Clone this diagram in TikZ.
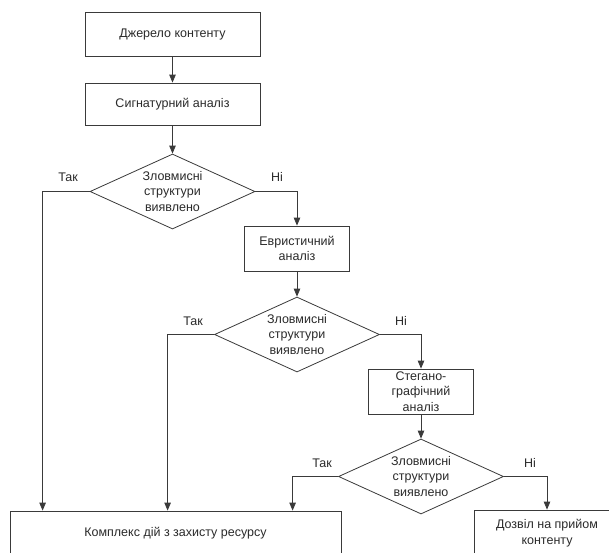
\documentclass[tikz,border=0pt]{standalone}
\usepackage{fontspec}
\setmainfont{Liberation Sans}
\usetikzlibrary{arrows.meta,shapes.geometric,calc}
\definecolor{lin}{HTML}{3A3A3A}
\definecolor{txt}{HTML}{2B2B2B}

\begin{document}
\begin{tikzpicture}[x=1pt,y=-1pt,
  font={\fontsize{12.5}{15.5}\selectfont},>={Triangle[length=8pt,width=6.5pt]},
  every node/.append style={text=txt},
  box/.style={draw=lin, line width=0.8pt, fill=white, align=center, inner sep=0pt},
  cond/.style={draw=lin, line width=0.8pt, fill=white, diamond, aspect=2.2, inner sep=0pt,
    minimum width=165pt, minimum height=75pt, align=center},
  lbl/.style={inner sep=0pt},
  flow/.style={->, draw=lin, line width=0.8pt},
]
\useasboundingbox[fill=white] (0,0) rectangle (609,552);

% Source and signature check
\node[box, minimum width=175pt, minimum height=44pt] (src) at (172.5,34) {Джерело контенту};
\node[box, minimum width=175pt, minimum height=42pt] (sig) at (172.5,104) {Сигнатурний аналіз};
\draw[flow] (src) -- (sig);

% Decision 1
\node[cond] (dec1) at (172.5,191.5) {Зловмисні\\структури\\виявлено};
\draw[flow] (sig) -- (dec1);
\node[lbl] (yes1) at (68,177) {Так};
\node[lbl] (no1) at (277,177) {Ні};

% Heuristic check
\node[box, minimum width=105pt, minimum height=45pt] (heur) at (297,248.5) {Евристичний\\аналіз};
\draw[flow] (dec1.east) -| (heur.north);

% Decision 2
\node[cond] (dec2) at (297,334.5) {Зловмисні\\структури\\виявлено};
\draw[flow] (heur) -- (dec2);
\node[lbl] (yes2) at (193,321) {Так};
\node[lbl] (no2) at (401,321) {Ні};

% Steganographic check
\node[box, minimum width=105pt, minimum height=45pt] (steg) at (421,391.5) {Стегано-\\графічний\\аналіз};
\draw[flow] (dec2.east) -| (steg.north);

% Decision 3
\node[cond] (dec3) at (421,476.5) {Зловмисні\\структури\\виявлено};
\draw[flow] (steg) -- (dec3);
\node[lbl] (yes3) at (322,463) {Так};
\node[lbl] (no3) at (530,463) {Ні};

% Outcomes
\node[box, minimum width=331pt, minimum height=45pt] (protect) at (175.5,533.5) {Комплекс дій з захисту ресурсу};
\node[box, minimum width=146pt, minimum height=46pt] (allow) at (547,533) {Дозвіл на прийом\\контенту};

\draw[flow] (dec1.west) -| ([xshift=33pt]protect.north west);
\draw[flow] (dec2.west) -| ([xshift=158pt]protect.north west);
\draw[flow] (dec3.west) -| ([xshift=283pt]protect.north west);
\draw[flow] (dec3.east) -| (allow.north);

\end{tikzpicture}
\end{document}
